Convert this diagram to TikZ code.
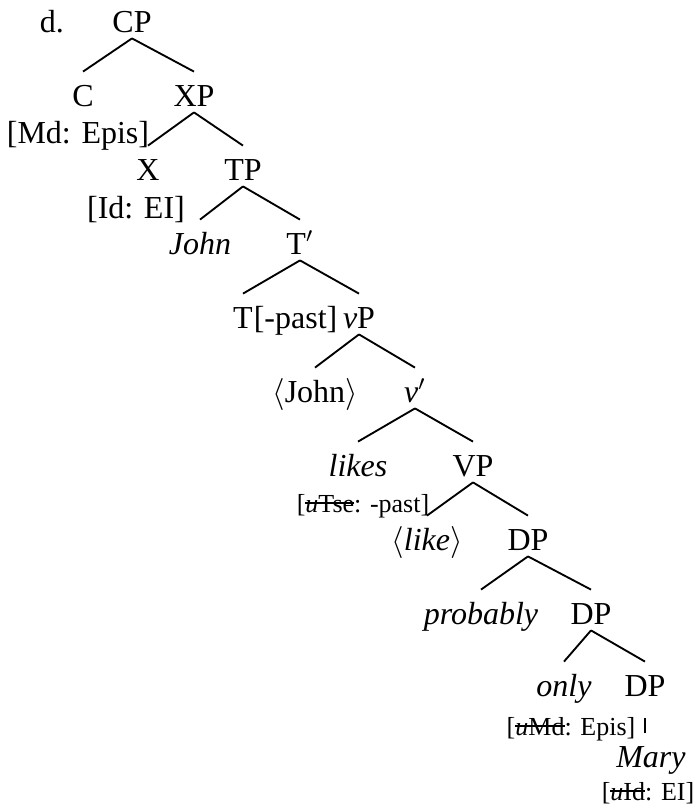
\documentclass[tikz,border=0pt]{standalone}
\usepackage{fontspec}
\setmainfont{Liberation Serif}
\tikzset{
  cat/.style = {
    anchor = base, inner xsep = 1pt, inner ysep = 2.2pt,
    text height = 10.5pt, text depth = 0pt,
    font = \fontsize{12}{14}\selectfont,
  },
  feat/.style = {anchor = base, inner sep = 1pt, font = \fontsize{12}{14}\selectfont},
  ufeat/.style = {anchor = base, inner sep = 1pt, font = \fontsize{9.75}{12}\selectfont},
  branch/.style = {line width = 0.7pt},
}
\newsavebox{\strkbox}
\newcommand{\unval}[1]{\sbox{\strkbox}{\textit{u}#1}\rlap{\rule[0.32em]{\wd\strkbox}{0.45pt}}\usebox{\strkbox}}

\begin{document}
\begin{tikzpicture}[x=0.375pt, y=-0.375pt]
            \useasboundingbox (0,0) rectangle (699,811);

            \node[cat] (d) at (52,32) {d.};
            \node[cat] (CP) at (132,32) {CP};
            \node[cat] (C) at (83,106) {C};
            \node[feat] (Cf) at (78,143) {[Md: Epis]};
            \node[cat] (XP) at (194,106) {XP};
            \node[cat] (X) at (148,180) {X};
            \node[feat] (Xf) at (136,218) {[Id: EI]};
            \node[cat] (TP) at (243,180) {TP};
            \node[cat] (John) at (200,254) {\textit{John}};
            \node[cat] (Tbar) at (300,254) {T$'$};
            \node[cat] (T) at (243,328) {T};
            \node[feat, anchor=base west, inner xsep=0pt] (Tf) at ([xshift=-1pt]T.base east) {[-past]};
            \node[cat] (vP) at (359,328) {\textit{v}P};
            \node[cat] (tJohn) at (315,402) {$\langle$John$\rangle$};
            \node[cat] (vbar) at (415,402) {\textit{v}$'$};
            \node[cat] (likes) at (358,476) {\textit{likes}};
            \node[ufeat] (likesf) at (363,512) {[\unval{Tse}: -past]};
            \node[cat] (VP) at (473,476) {VP};
            \node[cat] (tlike) at (427,550) {$\langle$\textit{like}$\rangle$};
            \node[cat] (DPa) at (528,550) {DP};
            \node[cat] (probably) at (481,624) {\textit{probably}};
            \node[cat] (DPb) at (591,624) {DP};
            \node[cat] (only) at (564,696) {\textit{only}};
            \node[ufeat] (onlyf) at (571,735) {[\unval{Md}: Epis]};
            \node[cat] (DPc) at (645,696) {DP};
            \node[cat] (Mary) at (651,767) {\textit{Mary}};
            \node[ufeat] (Maryf) at (648,800) {[\unval{Id}: EI]};

            \draw[branch] (CP.south) -- (C.north);
            \draw[branch] (CP.south) -- (XP.north);
            \draw[branch] (XP.south) -- (X.north);
            \draw[branch] (XP.south) -- (TP.north);
            \draw[branch] (TP.south) -- (John.north);
            \draw[branch] (TP.south) -- (Tbar.north);
            \draw[branch] (Tbar.south) -- (T.north);
            \draw[branch] (Tbar.south) -- (vP.north);
            \draw[branch] (vP.south) -- (tJohn.north);
            \draw[branch] (vP.south) -- (vbar.north);
            \draw[branch] (vbar.south) -- (likes.north);
            \draw[branch] (vbar.south) -- (VP.north);
            \draw[branch] (VP.south) -- (tlike.north);
            \draw[branch] (VP.south) -- (DPa.north);
            \draw[branch] (DPa.south) -- (probably.north);
            \draw[branch] (DPa.south) -- (DPb.north);
            \draw[branch] (DPb.south) -- (only.north);
            \draw[branch] (DPb.south) -- (DPc.north);
            \draw[branch, shorten <=6pt] (DPc.south) -- (DPc.south |- Mary.north);
        \end{tikzpicture}
\end{document}
